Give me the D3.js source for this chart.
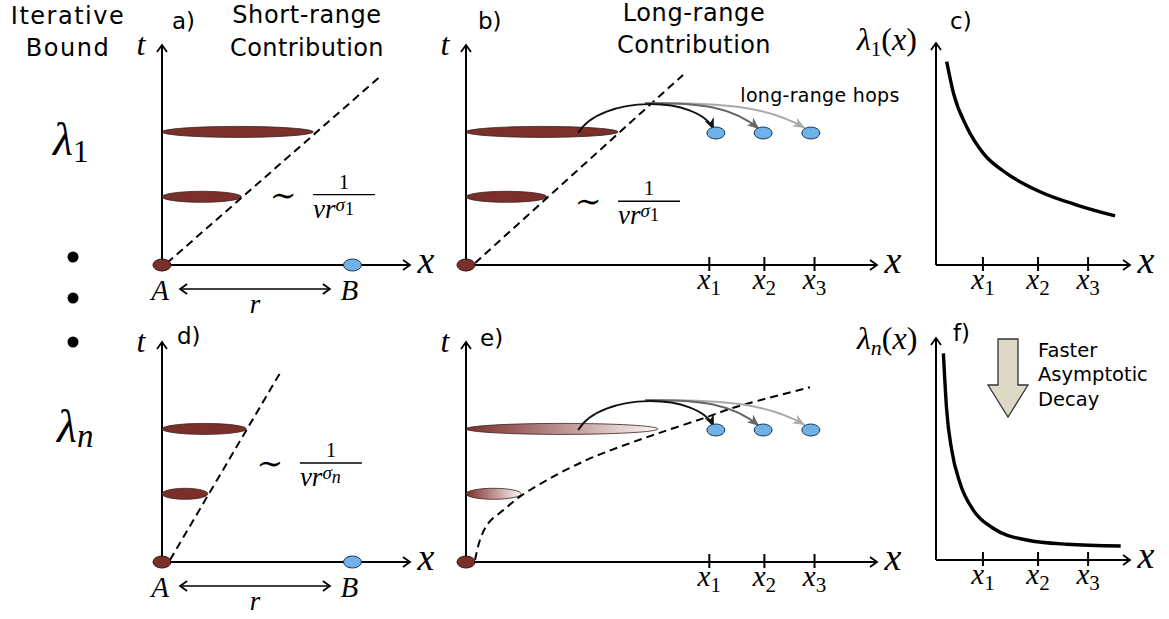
<!DOCTYPE html>
<html>
<head>
<meta charset="utf-8">
<script src="https://cdn.jsdelivr.net/npm/d3@7"></script>
<style>
  body { margin: 0; background: #fff; }
</style>
</head>
<body>
<svg id="fig" width="1169" height="619"></svg>
<script>
// ---- data (panel units: 0..100 along each axis) ----
var frontTimes = [31, 60.5];            // t of the two fronts drawn in every space-time panel
var frontReachA = [32, 61];             // a) short-range, lambda_1
var frontReachD = [18.5, 34];           // d) short-range, lambda_n
var frontReachB = [19.7, 37];           // b) long-range, lambda_1
var frontReachE = [13.4, 46.7];         // e) long-range, lambda_n
var siteB = 76.8;                       // position of B
var coneA = [[2, 0.9], [88.7, 86.4]];
var coneD = [[3.2, 0.9], [47.6, 85.9]];
var coneB = [[2.2, 0.9], [52.8, 86.4]];
var coneE = [[2.2, 0.9], [3.4, 10], [5.4, 17.6], [9.1, 23.6], [13.1, 29.7], [21.2, 38.8],
             [29.4, 46.4], [37.5, 52.4], [46.8, 58.5], [57.7, 65.3], [65.9, 70.6], [83.7, 79.4]];
var hopStart = [27.3, 60];
var hopPeak = [45.5, 73.5];
var hopTargets = [60.8, 72.3, 83.9];
var siteTicks = [59.2, 72.6, 84.8];
var siteSubs = ['1', '2', '3'];
var decayTicks = [24.2, 52.6, 78.4];
var decayC = [[5.5, 91.6], [9.0, 77.4], [15.8, 62.3], [24.4, 50.3], [36.4, 41.3],
              [53.6, 33.0], [72.6, 27.0], [92.3, 22.1]];
var decayF = [[3.8, 93.1], [5.5, 67.6], [8.1, 49.5], [12.4, 34.6], [19.2, 22.5],
              [29.5, 14.3], [46.8, 9.0], [67.4, 7.1], [95.2, 6.3]];

// ---- styles ----
var brown = '#7a2f2b';
var blue = '#6fb2ea';
var sans = '"DejaVu Sans", Verdana, sans-serif';
var serif = '"Liberation Serif", "DejaVu Serif", serif';
var hopColors = ['#111', '#666', '#aaa'];

var svg = d3.select('#fig');
var defs = svg.append('defs');

var openHead = defs.append('marker')
    .attr('id', 'open')
    .attr('viewBox', '-10 -6 12 12')
    .attr('markerUnits', 'userSpaceOnUse')
    .attr('markerWidth', 12).attr('markerHeight', 12)
    .attr('refX', 0).attr('refY', 0)
    .attr('orient', 'auto-start-reverse');
openHead.append('path')
    .attr('d', 'M-7,-5L0,0L-7,5')
    .attr('fill', 'none').attr('stroke', '#000').attr('stroke-width', 1.8);

hopColors.forEach(function (c, i) {
  defs.append('marker')
      .attr('id', 'hop' + i)
      .attr('viewBox', '-13 -7 15 14')
      .attr('markerUnits', 'userSpaceOnUse')
      .attr('markerWidth', 15).attr('markerHeight', 14)
      .attr('refX', 0).attr('refY', 0)
      .attr('orient', 'auto')
      .append('path')
      .attr('d', 'M0,0L-12,-5L-8.5,0L-12,5Z')
      .attr('fill', c);
});

var fade = defs.append('linearGradient').attr('id', 'fade');
fade.append('stop').attr('offset', '0%').attr('stop-color', brown);
fade.append('stop').attr('offset', '100%').attr('stop-color', '#fbf6f6');

var makePanel = function (ox, oy, w, h) {
  return {
    x: d3.scaleLinear().domain([0, 100]).range([ox, ox + w]),
    t: d3.scaleLinear().domain([0, 100]).range([oy, oy - h]),
    g: svg.append('g')
  };
};

var label = function (g, x, y, str, size, anchor, spacing) {
  return g.append('text')
      .attr('x', x).attr('y', y)
      .attr('font-family', sans).attr('font-size', size)
      .attr('letter-spacing', spacing || 0)
      .attr('text-anchor', anchor || 'start')
      .text(str);
};

// parts: [{s, size, it, dy}]
var mathText = function (g, x, y, parts, anchor) {
  var t = g.append('text')
      .attr('x', x).attr('y', y)
      .attr('font-family', serif)
      .attr('text-anchor', anchor || 'start');
  parts.forEach(function (p) {
    t.append('tspan')
        .attr('font-family', serif)
        .attr('font-size', p.size)
        .attr('font-style', p.it ? 'italic' : 'normal')
        .attr('dy', p.dy || 0)
        .text(p.s);
  });
  return t;
};

var drawAxes = function (p, tLabel) {
  p.g.append('line')
      .attr('x1', p.x(0)).attr('y1', p.t(0))
      .attr('x2', p.x(0)).attr('y2', p.t(100))
      .attr('stroke', '#000').attr('stroke-width', 2)
      .attr('marker-end', 'url(#open)');
  p.g.append('line')
      .attr('x1', p.x(0)).attr('y1', p.t(0))
      .attr('x2', p.x(100)).attr('y2', p.t(0))
      .attr('stroke', '#000').attr('stroke-width', 2)
      .attr('marker-end', 'url(#open)');
  mathText(p.g, p.x(100) + 16, p.t(0) + 8, [{s: 'x', size: 38, it: true}], 'middle');
  if (tLabel) {
    mathText(p.g, p.x(0) - 21, p.t(100) + 10, [{s: 't', size: 32, it: true}], 'middle');
  }
};

var drawTicks = function (p, ticks) {
  p.g.selectAll('line.tick').data(ticks).enter().append('line')
      .attr('class', 'tick')
      .attr('x1', function (d) { return p.x(d); })
      .attr('x2', function (d) { return p.x(d); })
      .attr('y1', p.t(0) - 8)
      .attr('y2', p.t(0) + 6)
      .attr('stroke', '#000').attr('stroke-width', 2);
  ticks.forEach(function (d, i) {
    mathText(p.g, p.x(d), p.t(0) + 24, [
      {s: 'x', size: 29, it: true},
      {s: siteSubs[i], size: 21, dy: 6}
    ], 'middle');
  });
};

var drawFronts = function (p, reach, fill) {
  var data = frontTimes.map(function (t, i) { return {t: t, r: reach[i]}; });
  p.g.selectAll('ellipse.front').data(data).enter().append('ellipse')
      .attr('class', 'front')
      .attr('cx', function (d) { return (p.x(0) + p.x(d.r)) / 2; })
      .attr('cy', function (d) { return p.t(d.t); })
      .attr('rx', function (d) { return (p.x(d.r) - p.x(0)) / 2; })
      .attr('ry', 5.5)
      .attr('fill', fill)
      .attr('stroke', '#3a2220').attr('stroke-width', 0.8);
};

var drawCone = function (p, cone) {
  p.g.append('path').datum(cone)
      .attr('d', d3.line()
          .x(function (d) { return p.x(d[0]); })
          .y(function (d) { return p.t(d[1]); })
          .curve(d3.curveCatmullRom.alpha(0.5)))
      .attr('fill', 'none').attr('stroke', '#000')
      .attr('stroke-width', 2).attr('stroke-dasharray', '8,5');
};

var site = function (p, x, t, fill) {
  p.g.append('ellipse')
      .attr('cx', p.x(x)).attr('cy', p.t(t))
      .attr('rx', 9).attr('ry', 6)
      .attr('fill', fill)
      .attr('stroke', fill === blue ? '#1f3448' : '#2a1210').attr('stroke-width', 1);
};

var fraction = function (g, x0, y0, w, subParts) {
  g.append('text')
      .attr('x', x0 - 30).attr('y', y0 + 11)
      .attr('font-family', '"DejaVu Serif", serif').attr('font-size', 32)
      .attr('text-anchor', 'middle').text('\u223C');
  g.append('line')
      .attr('x1', x0).attr('x2', x0 + w)
      .attr('y1', y0).attr('y2', y0)
      .attr('stroke', '#000').attr('stroke-width', 1.4);
  mathText(g, x0 + w / 2, y0 - 6, [{s: '1', size: 21}], 'middle');
  mathText(g, x0, y0 + 23, [
    {s: 'vr', size: 27, it: true},
    {s: '\u03C3', size: 19, it: true, dy: -7},
    subParts
  ]);
};

var shortRange = function (p, reach, cone, fracAt, sub) {
  drawAxes(p, true);
  drawFronts(p, reach, brown);
  drawCone(p, cone);
  site(p, 0, 0, brown);
  site(p, siteB, 0, blue);
  mathText(p.g, p.x(0) - 2, p.t(0) + 35, [{s: 'A', size: 29, it: true}], 'middle');
  mathText(p.g, p.x(siteB) - 3, p.t(0) + 35, [{s: 'B', size: 29, it: true}], 'middle');
  p.g.append('line')
      .attr('x1', p.x(7.3)).attr('x2', p.x(67.7))
      .attr('y1', p.t(0) + 24).attr('y2', p.t(0) + 24)
      .attr('stroke', '#000').attr('stroke-width', 1.6)
      .attr('marker-start', 'url(#open)').attr('marker-end', 'url(#open)');
  mathText(p.g, p.x(37.5), p.t(0) + 48, [{s: 'r', size: 27, it: true}], 'middle');
  fraction(p.g, p.x(fracAt[0]), p.t(fracAt[1]), 62, sub);
};

var longRange = function (p, reach, cone, fill, fracAt) {
  drawAxes(p, true);
  drawFronts(p, reach, fill);
  drawCone(p, cone);
  site(p, 0, 0, brown);
  drawTicks(p, siteTicks);

  var s = [p.x(hopStart[0]), p.t(hopStart[1])];
  var pk = [p.x(hopPeak[0]), p.t(hopPeak[1])];
  // lighter hops first so the black one sits on top
  for (var i = hopTargets.length - 1; i >= 0; i--) {
    var e = [p.x(hopTargets[i]) - 2 - i * 2, p.t(hopStart[1]) - 3 - i];
    var path = d3.path();
    if (i === 0) {
      path.moveTo(s[0], s[1]);
      path.bezierCurveTo(s[0] + 22, s[1] - 38, e[0] - 15, s[1] - 38, e[0], e[1]);
    } else {
      var dx = e[0] - pk[0];
      path.moveTo(pk[0] - 8, pk[1]);
      path.bezierCurveTo(pk[0] + dx * 0.45, pk[1] - 1, e[0] - dx * 0.25, e[1] - 22, e[0], e[1]);
    }
    p.g.append('path')
        .attr('d', path.toString())
        .attr('fill', 'none')
        .attr('stroke', hopColors[i]).attr('stroke-width', 2)
        .attr('marker-end', 'url(#hop' + i + ')');
  }
  hopTargets.forEach(function (d) { site(p, d, hopStart[1], blue); });
  if (fracAt) {
    fraction(p.g, p.x(fracAt[0]), p.t(fracAt[1]), 62, {s: '1', size: 18, dy: 4});
  }
};

var decay = function (p, values) {
  drawAxes(p, false);
  drawTicks(p, decayTicks);
  p.g.append('path').datum(values)
      .attr('d', d3.line()
          .x(function (d) { return p.x(d[0]); })
          .y(function (d) { return p.t(d[1]); })
          .curve(d3.curveMonotoneX))
      .attr('fill', 'none').attr('stroke', '#000').attr('stroke-width', 3.4);
};

// ---- panels ----
var pa = makePanel(162, 265, 248, 220);
var pb = makePanel(466, 265, 411, 220);
var pc = makePanel(936, 265, 194, 222);
var pd = makePanel(162, 562, 248, 220);
var pe = makePanel(466, 562, 411, 220);
var pf = makePanel(936, 560, 194, 222);

shortRange(pa, frontReachA, coneA, [60.9, 32], {s: '1', size: 18, dy: 4});
shortRange(pd, frontReachD, coneD, [55.6, 45], {s: 'n', size: 18, it: true, dy: 4});
longRange(pb, frontReachB, coneB, brown, [37, 29]);
longRange(pe, frontReachE, coneE, 'url(#fade)', null);
decay(pc, decayC);
decay(pf, decayF);

// ---- text ----
var notes = svg.append('g');
label(notes, 68, 24, 'Iterative', 24, 'middle', 1.5);
label(notes, 68, 56, 'Bound', 24, 'middle', 1.5);
label(notes, 307, 23, 'Short-range', 24, 'middle', 0.6);
label(notes, 307, 56, 'Contribution', 24, 'middle', 0.4);
label(notes, 694, 21, 'Long-range', 24, 'middle', 0.6);
label(notes, 694, 53, 'Contribution', 24, 'middle', 0.4);
label(notes, 172, 29, 'a)', 23);
label(notes, 478, 29, 'b)', 23);
label(notes, 950, 29, 'c)', 23);
label(notes, 177, 344, 'd)', 23);
label(notes, 480, 346, 'e)', 23);
label(notes, 953, 341, 'f)', 23);
label(notes, 820, 102, 'long-range hops', 19, 'middle', 0.3);
label(notes, 1038, 357, 'Faster', 19.5);
label(notes, 1038, 381, 'Asymptotic', 19.5);
label(notes, 1038, 406, 'Decay', 19.5);

mathText(notes, 53, 155, [{s: '\u03BB', size: 46, it: true}, {s: '1', size: 31, dy: 7}]);
mathText(notes, 57, 442, [{s: '\u03BB', size: 46, it: true}, {s: 'n', size: 33, it: true, dy: 5}]);
mathText(notes, 857, 50, [
  {s: '\u03BB', size: 32, it: true}, {s: '1', size: 21, dy: 6},
  {s: '(', size: 32, dy: -6}, {s: 'x', size: 32, it: true}, {s: ')', size: 32}
]);
mathText(notes, 857, 349, [
  {s: '\u03BB', size: 32, it: true}, {s: 'n', size: 22, it: true, dy: 6},
  {s: '(', size: 32, dy: -6}, {s: 'x', size: 32, it: true}, {s: ')', size: 32}
]);

[257, 298, 342].forEach(function (y) {
  notes.append('circle').attr('cx', 73).attr('cy', y).attr('r', 5.5).attr('fill', '#000');
});

// downward arrow in f)
var ax = 1008, ay = 339;
notes.append('path')
    .attr('d', 'M' + (ax - 10) + ',' + ay + 'h20v46h10l-20,32l-20,-32h10z')
    .attr('fill', '#dcd9c4').attr('stroke', '#333').attr('stroke-width', 1.3);
</script>
</body>
</html>
